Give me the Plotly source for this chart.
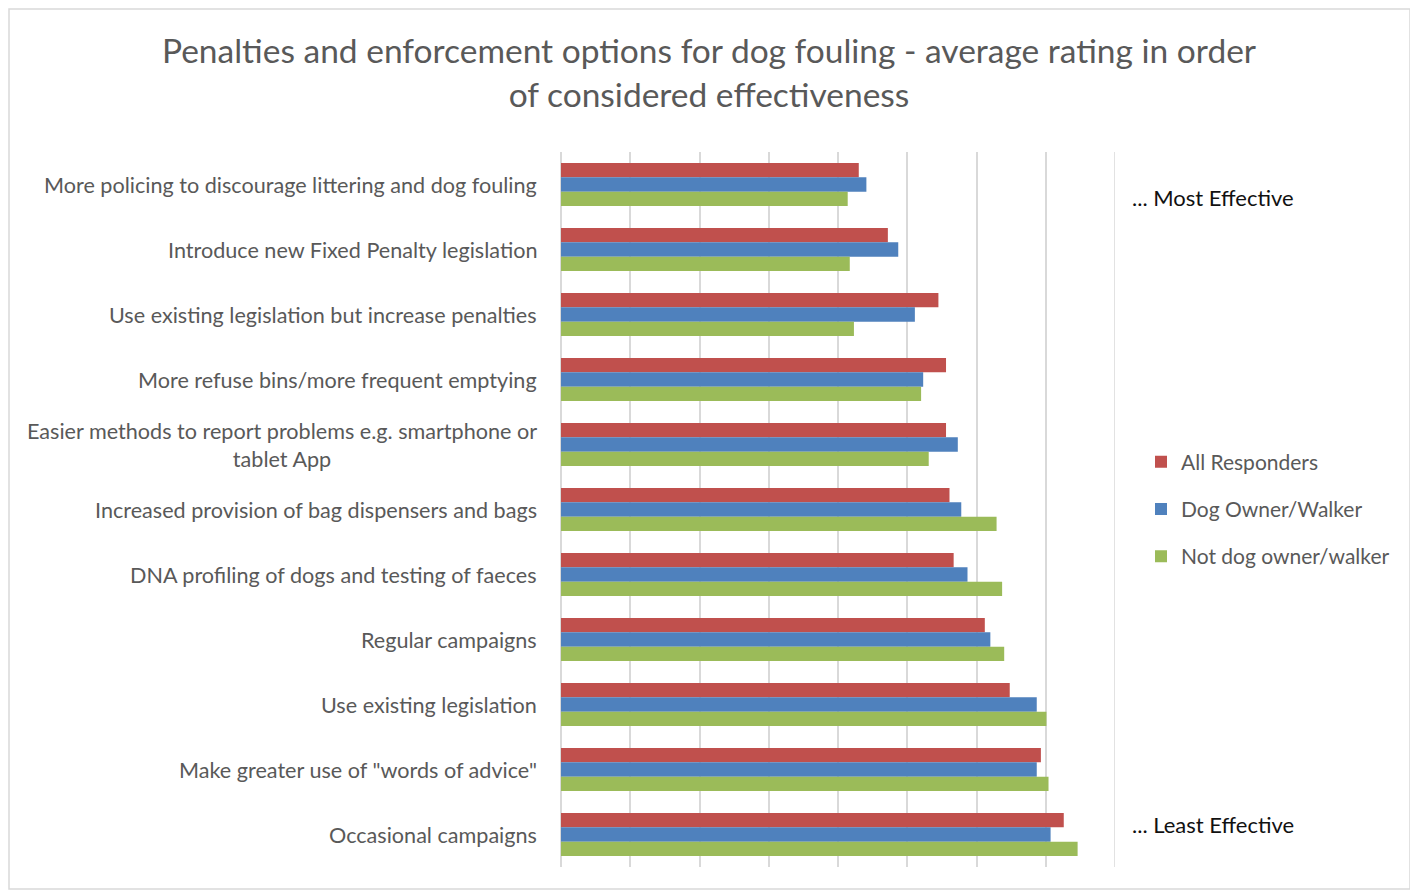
import plotly.graph_objects as go

# 选项类别（从上到下）
categories = [
    "More policing to discourage littering and dog fouling",
    "Introduce new Fixed Penalty legislation",
    "Use existing legislation but increase penalties",
    "More refuse bins/more frequent emptying",
    "Easier methods to report problems e.g. smartphone or<br>tablet App",
    "Increased provision of bag dispensers and bags",
    "DNA profiling of dogs and testing of faeces",
    "Regular campaigns",
    "Use existing legislation",
    "Make greater use of \"words of advice\"",
    "Occasional campaigns",
]

# 平均评分
all_responders = [4.30, 4.72, 5.45, 5.56, 5.56, 5.61, 5.67, 6.12, 6.48, 6.93, 7.26]
dog_owner = [4.41, 4.87, 5.11, 5.23, 5.73, 5.78, 5.87, 6.20, 6.87, 6.87, 7.07]
not_dog_owner = [4.14, 4.17, 4.23, 5.20, 5.31, 6.29, 6.37, 6.40, 7.01, 7.04, 7.46]

series_names = ["All Responders", "Dog Owner/Walker", "Not dog owner/walker"]
series_values = [all_responders, dog_owner, not_dog_owner]
colors = ["#C0504D", "#4F81BD", "#9BBB59"]
x_max = 8

FONT = "Lato, Carlito, Calibri, sans-serif"
OFF = 8  # 页面 body 默认边距
W, H = 1418 - OFF, 893 - OFF
L, R, T, B = 561 - OFF, 1418 - 1115, 152 - OFF, 893 - 867
pw, ph = W - L - R, H - T - B


def px_x(x):
    """参考图像素 x -> paper 坐标"""
    return (x - OFF - L) / pw


def px_y(y):
    """参考图像素 y -> paper 坐标"""
    return (H - B - (y - OFF)) / ph


fig = go.Figure()
for name, vals, col in zip(series_names, series_values, colors):
    fig.add_trace(
        go.Bar(
            y=categories,
            x=vals,
            name=name,
            orientation="h",
            marker=dict(color=col, line=dict(width=0)),
            legendgroup=name,
        )
    )

# 类别标签（居中对齐的多行文本）
for cat in categories:
    fig.add_annotation(
        x=0, xref="paper", xshift=-22,
        y=cat, yref="y",
        text=cat,
        showarrow=False,
        xanchor="right",
        align="center",
        font=dict(family=FONT, size=21.6, color="#595959"),
    )

# 右侧说明文字
for txt, yy in [("... Most Effective", 197), ("... Least Effective", 824)]:
    fig.add_annotation(
        x=px_x(1130), xref="paper",
        y=px_y(yy), yref="paper",
        text=txt,
        showarrow=False,
        xanchor="left", yanchor="middle",
        font=dict(family=FONT, size=22, color="#111111"),
    )

# 最右侧网格线
fig.add_shape(
    type="line", xref="x", yref="paper",
    x0=x_max, x1=x_max, y0=0, y1=1,
    line=dict(color="#D9D9D9", width=1.5),
    layer="below",
)

# 外边框
fig.add_shape(
    type="rect", xref="paper", yref="paper",
    x0=px_x(9), x1=px_x(1410),
    y0=px_y(889), y1=px_y(9),
    line=dict(color="#D9D9D9", width=1.5),
    layer="below",
)

fig.update_layout(
    width=W, height=H,
    margin=dict(l=L, r=R, t=T, b=B),
    paper_bgcolor="white",
    plot_bgcolor="white",
    barmode="group",
    bargap=0.34,
    bargroupgap=0,
    title=dict(
        text="Penalties and enforcement options for dog fouling - average rating in order<br>of considered effectiveness",
        x=(709 - OFF) / W, xref="container", xanchor="center",
        y=1 - (63 - OFF) / H, yref="container", yanchor="middle",
        font=dict(family=FONT, size=33.5, color="#595959"),
    ),
    font=dict(family=FONT, color="#595959"),
    legend=dict(
        x=px_x(1141), xanchor="left",
        y=px_y(509), yanchor="middle",
        font=dict(family=FONT, size=21, color="#595959"),
        tracegroupgap=17,
        traceorder="grouped",
        bgcolor="rgba(0,0,0,0)",
    ),
    xaxis=dict(
        range=[0, x_max],
        dtick=1,
        showgrid=True,
        gridcolor="#D9D9D9",
        gridwidth=1.5,
        zeroline=True,
        zerolinecolor="#D9D9D9",
        zerolinewidth=1.5,
        showticklabels=False,
        showline=False,
        fixedrange=True,
    ),
    yaxis=dict(
        autorange="reversed",
        showticklabels=False,
        showgrid=False,
        showline=False,
        zeroline=False,
    ),
)

fig.write_html("out.html")
